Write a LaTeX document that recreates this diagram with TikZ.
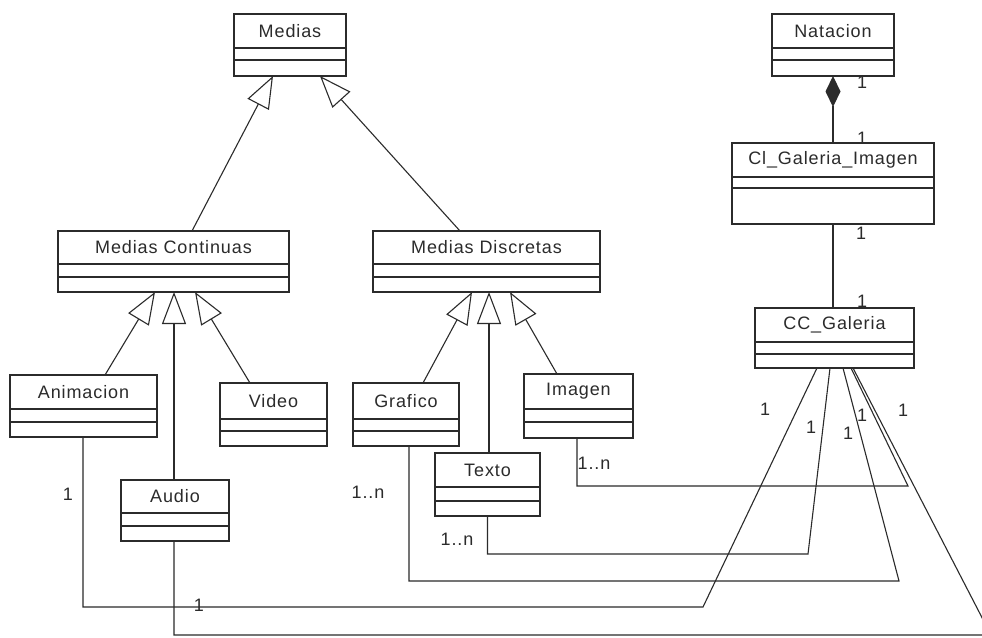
\documentclass[tikz,border=0pt]{standalone}
\usepackage{fontspec}
\setmainfont{Liberation Sans}[LetterSpace=5]
\usetikzlibrary{arrows.meta}
\definecolor{ink}{HTML}{2B2B2B}
\tikzset{
  classbox/.style={draw=ink, line width=1.2pt, fill=white, rectangle,
    inner sep=0pt, outer sep=0pt, anchor=north west},
  compline/.style={draw=ink, line width=1.1pt},
  classtitle/.style={font=\fontsize{18}{20}\selectfont, text=ink, inner sep=0pt},
  mult/.style={font=\fontsize{18}{20}\selectfont, text=ink, inner sep=0pt},
  link/.style={draw=ink, line width=1.1pt},
  gen/.style={link, -{Triangle[open, length=32pt, width=24pt, line width=1.1pt]}},
  comp/.style={link, {Diamond[length=31pt, width=15pt]}-},
}
% UML class: name, x1, y1, x2, y2, first divider, second divider, title
\newcommand\umlclass[8]{%
  \node[classbox, minimum width={#4pt-#2pt}, minimum height={#5pt-#3pt}] (#1) at (#2,#3) {};
  \draw[compline] (#2,#6) -- (#4,#6);
  \draw[compline] (#2,#7) -- (#4,#7);
  \node[classtitle] (#1-t) at ({(#2+#4)/2},{(#3+#6)/2}) {#8};
}
\begin{document}
\begin{tikzpicture}[x=1pt,y=-1pt]
  \fill[white] (0,0) rectangle (982,637);
  \useasboundingbox (0,0) rectangle (982,637);
  \clip (0,0) rectangle (982,637);

  % classes
  \umlclass{medias}{234}{14}{346}{76}{48}{60}{Medias}
  \umlclass{natacion}{772}{14}{894}{76}{48}{60}{Natacion}
  \umlclass{cigal}{732}{143}{934}{224}{177}{188}{Cl\_Galeria\_Imagen}
  \umlclass{medcont}{58}{231}{289}{292}{264}{277}{Medias Continuas}
  \umlclass{meddisc}{373}{231}{600}{292}{264}{277}{Medias Discretas}
  \umlclass{ccgal}{755}{308}{914}{368}{342}{354}{CC\_Galeria}
  \umlclass{animacion}{10}{375}{157}{437}{409}{422}{Animacion}
  \umlclass{video}{220}{383}{327}{446}{419}{431}{Video}
  \umlclass{grafico}{353}{383}{459}{446}{419}{431}{Grafico}
  \umlclass{imagen}{524}{374}{633}{438}{409}{422}{Imagen}
  \umlclass{texto}{435}{453}{540}{516}{487}{501}{Texto}
  \umlclass{audio}{121}{480}{229}{541}{513}{526}{Audio}

  % generalizations
  \draw[gen] ([xshift=134pt]medcont.north west) -- ([xshift=39pt]medias.south west);
  \draw[gen] ([xshift=87pt]meddisc.north west) -- ([xshift=86pt]medias.south west);
  \draw[gen] ([xshift=95pt]animacion.north west) -- ([xshift=97pt]medcont.south west);
  \draw[gen] ([xshift=53pt]audio.north west) -- ([xshift=116pt]medcont.south west);
  \draw[gen] ([xshift=30pt]video.north west) -- ([xshift=137pt]medcont.south west);
  \draw[gen] ([xshift=70pt]grafico.north west) -- ([xshift=99pt]meddisc.south west);
  \draw[gen] ([xshift=54pt]texto.north west) -- ([xshift=116pt]meddisc.south west);
  \draw[gen] ([xshift=33pt]imagen.north west) -- ([xshift=137pt]meddisc.south west);

  % composition and association on the right
  \draw[comp] (natacion.south) -- (cigal.north);
  \draw[link] (cigal.south) -- (cigal.south |- ccgal.north);

  % associations from CC_Galeria
  \coordinate (bendA) at (703,607);
  \coordinate (bendB) at (808,554);
  \coordinate (bendC) at (899,581);
  \coordinate (bendD) at (908,486);
  \coordinate (bendE) at (991,635);
  \draw[link] ([xshift=62pt]ccgal.south west) -- (bendA) -| ([xshift=73pt]animacion.south west);
  \draw[link] ([xshift=75pt]ccgal.south west) -- (bendB) -| (texto.south);
  \draw[link] ([xshift=88pt]ccgal.south west) -- (bendC) -| ([xshift=56pt]grafico.south west);
  \draw[link] ([xshift=96pt]ccgal.south west) -- (bendD) -| ([xshift=53pt]imagen.south west);
  \draw[link] ([xshift=98pt]ccgal.south west) -- (bendE) -| ([xshift=53pt]audio.south west);

  % multiplicities
  \node[mult] (m1) at (862,82) {1};
  \node[mult] (m2) at (862,138) {1};
  \node[mult] (m3) at (861,233) {1};
  \node[mult] (m4) at (862,301) {1};
  \node[mult] (m5) at (765,409) {1};
  \node[mult] (m6) at (811,427) {1};
  \node[mult] (m7) at (848,433) {1};
  \node[mult] (m8) at (862,415) {1};
  \node[mult] (m9) at (903,410) {1};
  \node[mult] (m10) at (68,494) {1};
  \node[mult] (m11) at (199,605) {1};
  \node[mult] (m12) at (368,492) {1..n};
  \node[mult] (m13) at (457,539) {1..n};
  \node[mult] (m14) at (594,463) {1..n};
\end{tikzpicture}
\end{document}
